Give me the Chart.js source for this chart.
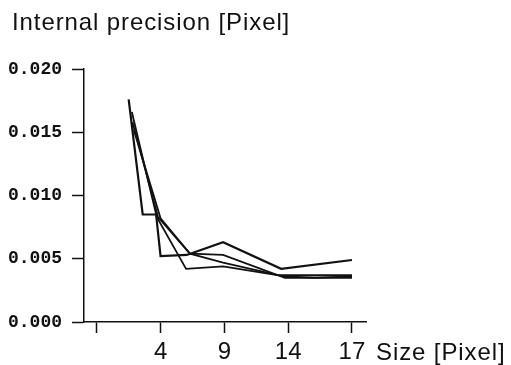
<!DOCTYPE html>
<html>
<head>
<meta charset="utf-8">
<script src="https://cdn.jsdelivr.net/npm/chart.js@4/dist/chart.umd.min.js"></script>
<style>
    html, body { margin: 0; padding: 0; background: #fff; }
    #wrap { width: 511px; height: 365px; position: relative; }
</style>
</head>
<body>
<div id="wrap"><canvas id="chart"></canvas></div>
<script>
// Позиции делений по оси X и их подписи
const tickPos = [0, 1, 2, 3, 4];
const tickLabels = ['', '4', '9', '14', '17'];

// Четыре кривые: позиции по X и значения точности
const line1X = [0.50, 0.72, 0.93, 1.00, 1.41, 1.98, 2.89, 4.00];
const line1Y = [0.0176, 0.0085, 0.0085, 0.0052, 0.0053, 0.0063, 0.0042, 0.0049];

const line2X = [0.55, 0.94, 1.40, 1.98, 2.95, 3.42, 4.00];
const line2Y = [0.0166, 0.0083, 0.0042, 0.0044, 0.0036, 0.0035, 0.0036];

const line3X = [0.56, 0.96, 1.46, 1.98, 2.84, 3.42, 4.00];
const line3Y = [0.0158, 0.0083, 0.0054, 0.0047, 0.0037, 0.0037, 0.0037];

const line4X = [0.58, 1.00, 1.46, 1.98, 2.95, 4.00];
const line4Y = [0.0152, 0.0082, 0.0054, 0.0053, 0.0035, 0.0035];

const yTitle = 'Internal precision [Pixel]';
const xTitle = 'Size [Pixel]';

function toPoints(xs, ys) {
    return xs.map((x, i) => ({ x: x, y: ys[i] }));
}

function lineSet(xs, ys, width) {
    return {
        data: toPoints(xs, ys),
        borderColor: '#111',
        borderWidth: width,
        pointRadius: 0,
        tension: 0,
        fill: false
    };
}

// Подписи осей рисуем сами
const axisTitles = {
    id: 'axisTitles',
    afterDraw(chart) {
        const ctx = chart.ctx;
        const xs = chart.scales.x;
        ctx.save();
        ctx.fillStyle = '#111';
        ctx.font = '24px "Liberation Sans", Arial, sans-serif';
        ctx.letterSpacing = '0.9px';
        ctx.textAlign = 'left';
        ctx.textBaseline = 'alphabetic';
        ctx.fillText(yTitle, 12, 30);
        ctx.fillText(xTitle, xs.right + 10, 360);
        ctx.restore();
    }
};

new Chart(document.getElementById('chart'), {
    type: 'line',
    data: {
        datasets: [
            lineSet(line1X, line1Y, 2.2),
            lineSet(line2X, line2Y, 1.8),
            lineSet(line3X, line3Y, 1.8),
            lineSet(line4X, line4Y, 1.8)
        ]
    },
    plugins: [axisTitles],
    options: {
        responsive: true,
        maintainAspectRatio: false,
        animation: false,
        layout: {
            padding: { left: 0, top: 69, right: 145, bottom: 0 }
        },
        plugins: {
            legend: { display: false },
            tooltip: { enabled: false }
        },
        scales: {
            x: {
                type: 'linear',
                min: -0.2,
                max: 4.22,
                afterBuildTicks: (scale) => {
                    scale.ticks = tickPos.map(v => ({ value: v }));
                },
                afterFit: (scale) => { scale.height = 43; },
                border: { color: '#111', width: 1.5 },
                grid: {
                    drawOnChartArea: false,
                    tickLength: 11,
                    tickColor: '#111',
                    tickWidth: 1.5
                },
                ticks: {
                    color: '#111',
                    padding: 5,
                    maxRotation: 0,
                    font: { family: '"Liberation Sans", Arial, sans-serif', size: 24 },
                    callback: (value) => {
                        const i = tickPos.indexOf(value);
                        return i >= 0 ? tickLabels[i] : '';
                    }
                }
            },
            y: {
                min: 0,
                max: 0.02,
                afterFit: (scale) => { scale.width = 84; },
                border: { color: '#111', width: 1.5 },
                grid: {
                    drawOnChartArea: false,
                    tickLength: 12,
                    tickColor: '#111',
                    tickWidth: 1.5
                },
                ticks: {
                    stepSize: 0.005,
                    color: '#111',
                    padding: 10,
                    font: { family: '"Liberation Mono", "Courier New", monospace', size: 18, weight: 'bold' },
                    callback: (value) => value.toFixed(3)
                }
            }
        }
    }
});
</script>
</body>
</html>
